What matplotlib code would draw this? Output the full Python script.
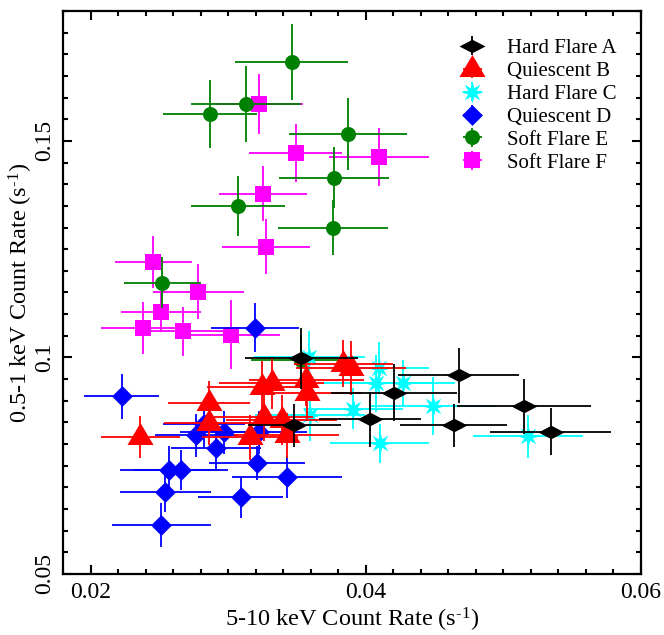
import matplotlib

matplotlib.use("Agg")
import matplotlib.pyplot as plt
import numpy as np
from matplotlib.legend_handler import HandlerErrorbar
from matplotlib.path import Path
from matplotlib.ticker import FixedLocator, MultipleLocator

# count rates: 5-10 keV (x) against 0.5-1 keV (y), per spectral state
hfa_x = [0.03533, 0.03482, 0.04031, 0.04204, 0.04674, 0.04638, 0.05150, 0.05345]
hfa_y = [0.0998, 0.0843, 0.0857, 0.0919, 0.0959, 0.0843, 0.0887, 0.0829]
hfa_xerr = [0.0041, 0.0034, 0.0037, 0.0046, 0.0044, 0.0039, 0.0049, 0.0044]
hfa_yerr = [0.0070, 0.0050, 0.0064, 0.0066, 0.0063, 0.0050, 0.0063, 0.0055]

qb_x = [0.02363, 0.02861, 0.02861, 0.03157, 0.03244, 0.03316, 0.03258,
        0.03388, 0.03425, 0.03569, 0.03576, 0.03836, 0.03894]
qb_y = [0.0816, 0.0894, 0.0848, 0.0816, 0.0931, 0.0940, 0.0862,
        0.0855, 0.0820, 0.0947, 0.0919, 0.0986, 0.0975]
qb_xerr = [0.0029, 0.0030, 0.0033, 0.0035, 0.0040, 0.0038, 0.0036,
           0.0040, 0.0038, 0.0042, 0.0040, 0.0036, 0.0040]
qb_yerr = [0.0049, 0.0052, 0.0050, 0.0052, 0.0060, 0.0060, 0.0055,
           0.0058, 0.0052, 0.0060, 0.0062, 0.0055, 0.0062]

hfc_x = [0.04096, 0.04074, 0.04269, 0.03908, 0.04486, 0.04103, 0.03598, 0.05179, 0.03591]
hfc_y = [0.0975, 0.0940, 0.0942, 0.0882, 0.0889, 0.0802, 0.0866, 0.0818, 0.1000]
hfc_xerr = [0.0036, 0.0040, 0.0038, 0.0036, 0.0045, 0.0036, 0.0040, 0.0040, 0.0040]
hfc_yerr = [0.0060, 0.0065, 0.0053, 0.0048, 0.0067, 0.0045, 0.0058, 0.0050, 0.0060]

qd_x = [0.02226, 0.03194, 0.02768, 0.02825, 0.02970, 0.02912, 0.03222,
        0.03208, 0.02573, 0.02659, 0.03425, 0.02544, 0.03092, 0.02515]
qd_y = [0.0910, 0.1069, 0.0820, 0.0846, 0.0827, 0.0790, 0.0827,
        0.0756, 0.0740, 0.0740, 0.0724, 0.0689, 0.0677, 0.0613]
qd_xerr = [0.0027, 0.0032, 0.0030, 0.0030, 0.0032, 0.0033, 0.0035,
           0.0035, 0.0036, 0.0034, 0.0040, 0.0033, 0.0031, 0.0036]
qd_yerr = [0.0051, 0.0057, 0.0050, 0.0052, 0.0050, 0.0048, 0.0050,
           0.0040, 0.0055, 0.0046, 0.0048, 0.0045, 0.0047, 0.0050]

sfe_x = [0.03461, 0.03129, 0.02869, 0.03872, 0.03771, 0.03071, 0.03764, 0.02522, 0.03533]
sfe_y = [0.1682, 0.1585, 0.1562, 0.1516, 0.1415, 0.1350, 0.1300, 0.1173, 0.0993]
sfe_xerr = [0.0041, 0.0040, 0.0034, 0.0043, 0.0040, 0.0034, 0.0040, 0.0028, 0.0037]
sfe_yerr = [0.0088, 0.0088, 0.0078, 0.0083, 0.0070, 0.0069, 0.0063, 0.0058, 0.0060]

sff_x = [0.03222, 0.03490, 0.04096, 0.03251, 0.03273, 0.02457,
         0.02782, 0.02515, 0.02378, 0.02674, 0.03020]
sff_y = [0.1585, 0.1472, 0.1463, 0.1378, 0.1256, 0.1221,
         0.1152, 0.1106, 0.1069, 0.1060, 0.1053]
sff_xerr = [0.0032, 0.0034, 0.0036, 0.0032, 0.0032, 0.0028,
            0.0033, 0.0029, 0.0030, 0.0030, 0.0036]
sff_yerr = [0.0069, 0.0067, 0.0067, 0.0064, 0.0064, 0.0060,
            0.0064, 0.0048, 0.0060, 0.0057, 0.0079]

labels = ["Hard Flare A", "Quiescent B", "Hard Flare C",
          "Quiescent D", "Soft Flare E", "Soft Flare F"]

x_ticks = [0.02, 0.04, 0.06]
x_ticklabels = ["0.02", "0.04", "0.06"]
y_ticks = [0.05, 0.1, 0.15]
y_ticklabels = ["0.05", "0.1", "0.15"]


def star_path(points=8, inner=0.42):
    ang = np.pi / 2 + np.arange(2 * points) * np.pi / points
    rad = np.where(np.arange(2 * points) % 2 == 0, 1.0, inner)
    verts = np.column_stack([rad * np.cos(ang), rad * np.sin(ang)])
    return Path(np.vstack([verts, verts[:1]]), closed=True)


wide_diamond = Path([(-1, 0), (0, 0.52), (1, 0), (0, -0.52), (-1, 0)], closed=True)
triangle = Path([(-13, -7.5), (13, -7.5), (0, 14.5), (-13, -7.5)], closed=True)
diamond = Path([(0, 1), (1, 0), (0, -1), (-1, 0), (0, 1)], closed=True)

# marker sizes are in points (figure is 100 dpi, so px * 0.72)
series = [
    (hfa_x, hfa_y, hfa_xerr, hfa_yerr, "black", wide_diamond, 18.7),
    (qb_x, qb_y, qb_xerr, qb_yerr, "#ff0000", triangle, 20.9),
    (hfc_x, hfc_y, hfc_xerr, hfc_yerr, "#00ffff", star_path(), 16.0),
    (qd_x, qd_y, qd_xerr, qd_yerr, "#0000ff", diamond, 15.0),
    (sfe_x, sfe_y, sfe_xerr, sfe_yerr, "#008000", "o", 10.8),
    (sff_x, sff_y, sff_xerr, sff_yerr, "#ff00ff", "s", 11.5),
]

plt.rcParams["font.family"] = ["Liberation Serif", "DejaVu Serif"]
plt.rcParams["mathtext.fontset"] = "custom"
plt.rcParams["mathtext.rm"] = "Liberation Serif"
plt.rcParams["mathtext.it"] = "Liberation Serif:italic"

fig = plt.figure(figsize=(6.64, 6.35), dpi=100)
ax = fig.add_axes([63 / 664, 61 / 635, 578 / 664, 563 / 635])

handles = {}
# draw last series first so the flare states sit on top
for (x, y, xe, ye, col, mk, ms), lab in reversed(list(zip(series, labels))):
    ax.errorbar(
        x, y, xerr=xe, yerr=ye,
        fmt="none", ecolor=col, elinewidth=1.3, capsize=0,
    )
    ax.plot(
        x, y, linestyle="none",
        marker=mk, markersize=ms, color=col, markeredgewidth=0,
    )
    handles[lab] = ax.errorbar(
        [np.nan], [np.nan], xerr=[0], yerr=[0], linestyle="none",
        marker=mk, markersize=ms, color=col, markeredgewidth=0,
        elinewidth=1.3, capsize=0,
    )

ax.set_xlim(0.018, 0.06)
ax.set_ylim(0.05, 0.18)
ax.xaxis.set_major_locator(FixedLocator(x_ticks))
ax.set_xticklabels(x_ticklabels)
ax.yaxis.set_major_locator(FixedLocator(y_ticks))
ax.set_yticklabels(y_ticklabels)
ax.xaxis.set_minor_locator(MultipleLocator(0.002))
ax.yaxis.set_minor_locator(MultipleLocator(0.005))

ax.tick_params(which="both", direction="in", top=True, right=True,
               width=1.5, labelsize=17, pad=6)
ax.tick_params(which="major", length=6.5)
ax.tick_params(which="minor", length=3.3)
for lbl in ax.get_yticklabels():
    lbl.set_rotation(90)
    lbl.set_va("center")
for sp in ax.spines.values():
    sp.set_linewidth(1.6)

ax.set_xlabel(r"5-10 keV Count Rate (s$^{\text{-1}}$)", fontsize=17.5, labelpad=2)
ax.set_ylabel(r"0.5-1 keV Count Rate (s$^{\text{-1}}$)", fontsize=17.5, labelpad=-1)

leg = ax.legend(
    [handles[l] for l in labels], labels,
    loc="upper left",
    bbox_to_anchor=(456.5 / 664, 1 - 38.5 / 635),
    bbox_transform=fig.transFigure,
    frameon=False, fontsize=15, numpoints=1,
    handlelength=1.5, handletextpad=0.94, labelspacing=0.16,
    borderpad=0, borderaxespad=0,
    handler_map={type(handles[labels[0]]): HandlerErrorbar(xerr_size=0.45)},
)

fig.savefig("out.png", dpi=100)
